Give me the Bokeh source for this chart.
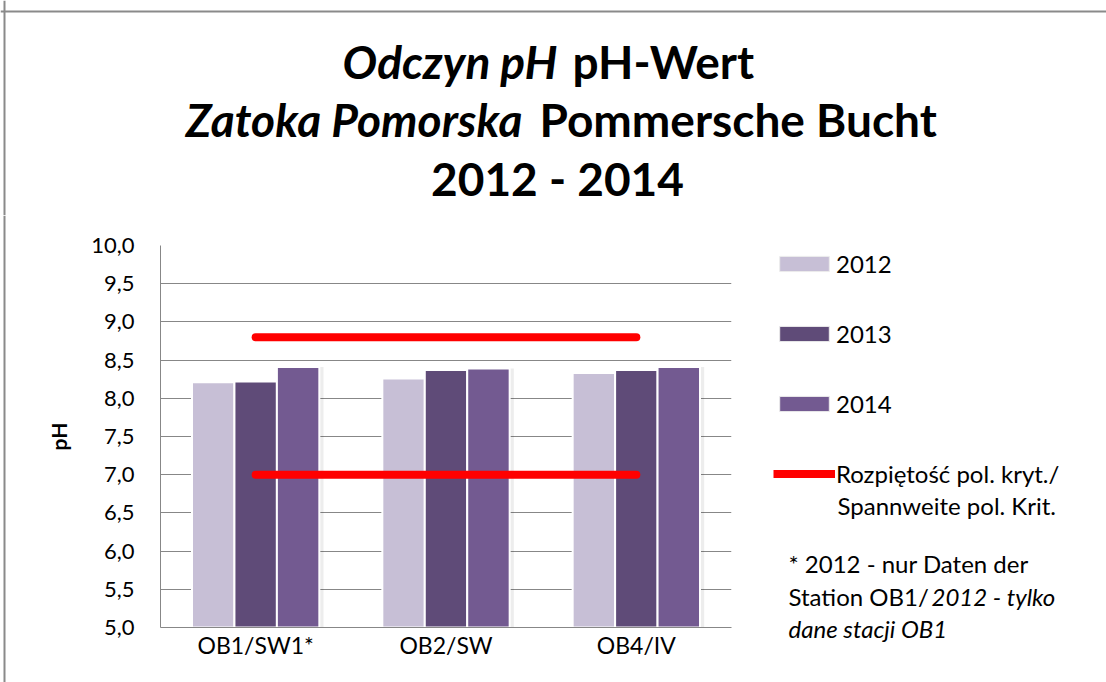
from bokeh.plotting import figure
from bokeh.layouts import column, row
from bokeh.models import (FactorRange, Range1d, FixedTicker, Legend, LegendItem,
                          Label, ColumnDataSource, Span)
from bokeh.transform import dodge
from bokeh.embed import file_html
from bokeh.resources import INLINE

# ---------------- data ----------------
stations = ["OB1/SW1*", "OB2/SW", "OB4/IV"]
years = ["2012", "2013", "2014"]
ph_2012 = [8.21, 8.26, 8.33]
ph_2013 = [8.22, 8.37, 8.37]
ph_2014 = [8.41, 8.39, 8.41]
crit_low = 7.0
crit_high = 8.8
y_ticks = [5.0, 5.5, 6.0, 6.5, 7.0, 7.5, 8.0, 8.5, 9.0, 9.5, 10.0]
y_tick_labels = ["5,0", "5,5", "6,0", "6,5", "7,0", "7,5", "8,0", "8,5", "9,0", "9,5", "10,0"]
crit_label_1 = "Rozpiętość pol. kryt./"
crit_label_2 = "Spannweite pol. Krit."

colors = ["#c7bfd6", "#5f4b78", "#735a91"]
FONT = "Lato"
BORDER = "#8a8a8a"
TOTAL_W, TOTAL_H = 1106, 682
TITLE_H = 215
FRAME_TOP = 245
STRIP_W = 8
MAIN_W = 740 - STRIP_W
LEG_W = TOTAL_W - MAIN_W - STRIP_W
BODY_H = TOTAL_H - TITLE_H
NAN = float("nan")


def blank_fig(w, h, x0, x1, y0, y1):
    f = figure(width=w, height=h, x_range=Range1d(x0, x1), y_range=Range1d(y1, y0),
               output_backend="svg", toolbar_location=None, min_border=0,
               background_fill_color="white", border_fill_color="white")
    f.xaxis.visible = False
    f.yaxis.visible = False
    f.grid.visible = False
    f.outline_line_color = None
    return f


def lab(f, text, x, y, size="24px", style="normal", align="left", baseline="middle"):
    f.add_layout(Label(x=x, y=y, text=text, text_font=FONT, text_font_size=size,
                       text_font_style=style, text_align=align, text_baseline=baseline,
                       text_color="#000000"))


# ---------------- title ----------------
t = blank_fig(TOTAL_W, TITLE_H, 0, TOTAL_W, 0, TITLE_H)
t.add_layout(Span(location=11, dimension="width", line_color=BORDER, line_width=2))
t.add_layout(Span(location=4, dimension="height", line_color=BORDER, line_width=2))
TS = "46px"
lab(t, "Odczyn pH", 557, 61, size=TS, style="bold italic", align="right")
lab(t, "pH-Wert", 572, 61, size=TS, style="bold", align="left")
lab(t, "Zatoka Pomorska", 522, 119, size=TS, style="bold italic", align="right")
lab(t, "Pommersche Bucht", 539, 119, size=TS, style="bold", align="left")
lab(t, "2012 - 2014", 557, 178, size=TS, style="bold", align="center")

# ---------------- left border strip ----------------
s = blank_fig(STRIP_W, BODY_H, 0, STRIP_W, TITLE_H, TOTAL_H)
s.add_layout(Span(location=4, dimension="height", line_color=BORDER, line_width=2))

# ---------------- main chart ----------------
source = ColumnDataSource(dict(st=stations, y2012=ph_2012, y2013=ph_2013, y2014=ph_2014))

p = figure(width=MAIN_W, height=BODY_H, x_range=FactorRange(*stations), y_range=Range1d(5, 10),
           output_backend="svg", toolbar_location=None,
           min_border_left=160 - STRIP_W, min_border_right=9, min_border_top=FRAME_TOP - TITLE_H,
           min_border_bottom=55, background_fill_color="white", border_fill_color="white")
p.outline_line_color = None

p.yaxis.ticker = FixedTicker(ticks=y_ticks)
p.yaxis.major_label_overrides = {tk: lb for tk, lb in zip(y_ticks, y_tick_labels)}
for ax in (p.xaxis, p.yaxis):
    ax.axis_line_color = "#878787"
    ax.axis_line_width = 1
    ax.major_tick_line_color = None
    ax.minor_tick_line_color = None
    ax.major_tick_out = 0
    ax.major_tick_in = 0
    ax.major_label_text_font = FONT
    ax.major_label_text_color = "#000000"
p.yaxis.major_label_text_font_size = "22px"
p.xaxis.major_label_text_font_size = "23px"
p.yaxis.major_label_standoff = 26
p.xaxis.major_label_standoff = 3
p.yaxis.axis_label = "pH"
p.yaxis.axis_label_text_font = FONT
p.yaxis.axis_label_text_font_style = "bold"
p.yaxis.axis_label_text_font_size = "21px"
p.yaxis.axis_label_text_color = "#000000"
p.yaxis.axis_label_standoff = 17
p.xgrid.grid_line_color = None
p.ygrid.grid_line_color = "#878787"
p.ygrid.grid_line_width = 1

step = 0.223
offsets = [-step, 0.0, step]
cols = ["y2012", "y2013", "y2014"]
for off, col in zip(offsets, cols):
    p.vbar(x=dodge("st", off + 0.012, range=p.x_range), top=col, bottom=4.0,
           width=step + 0.02, source=source, fill_color="#000000", fill_alpha=0.07,
           line_color=None)
for off, col, c in zip(offsets, cols, colors):
    p.vbar(x=dodge("st", off, range=p.x_range), top=col, bottom=4.0, width=step,
           source=source, fill_color=c, line_color="white", line_width=2)

p.line(x=[stations[0], stations[-1]], y=[crit_high, crit_high], line_color="#ff0000",
       line_width=8, line_cap="round")
p.line(x=[stations[0], stations[-1]], y=[crit_low, crit_low], line_color="#ff0000",
       line_width=8, line_cap="round")

# ---------------- legend panel ----------------
lg = blank_fig(LEG_W, BODY_H, 740, TOTAL_W, TITLE_H, TOTAL_H)
proxy = ColumnDataSource(dict(x=[NAN], top=[NAN], y=[NAN]))  # legend-only proxies, never drawn
leg_renderers = [lg.vbar(x="x", top="top", width=1, source=proxy, fill_color=c,
                         line_color="#ececec", line_width=1) for c in colors]
leg_line = lg.line(x="x", y="y", source=proxy, line_color="#ff0000", line_width=8,
                   line_cap="butt")
items = [LegendItem(label=y, renderers=[r]) for y, r in zip(years, leg_renderers)]
items.append(LegendItem(label=crit_label_1, renderers=[leg_line]))
legend = Legend(items=items, location=(33, 194), orientation="vertical",
                glyph_width=62, glyph_height=19, label_height=30, spacing=40,
                padding=0, margin=0, label_standoff=1,
                label_text_font=FONT, label_text_font_size="24px", label_text_color="#000000",
                background_fill_alpha=0, border_line_color=None)
lg.add_layout(legend)
lab(lg, crit_label_2, 837, 505)
lab(lg, "* 2012 - nur Daten der", 788, 563)
lab(lg, "Station OB1/", 788, 596)
lab(lg, "2012 - tylko", 931, 596, style="italic")
lab(lg, "dane stacji OB1", 788, 628, style="italic")

layout = column(t, row(column(s, spacing=0), p, column(lg, spacing=0), spacing=0), spacing=0)
open("out.html", "w").write(file_html(layout, INLINE))
